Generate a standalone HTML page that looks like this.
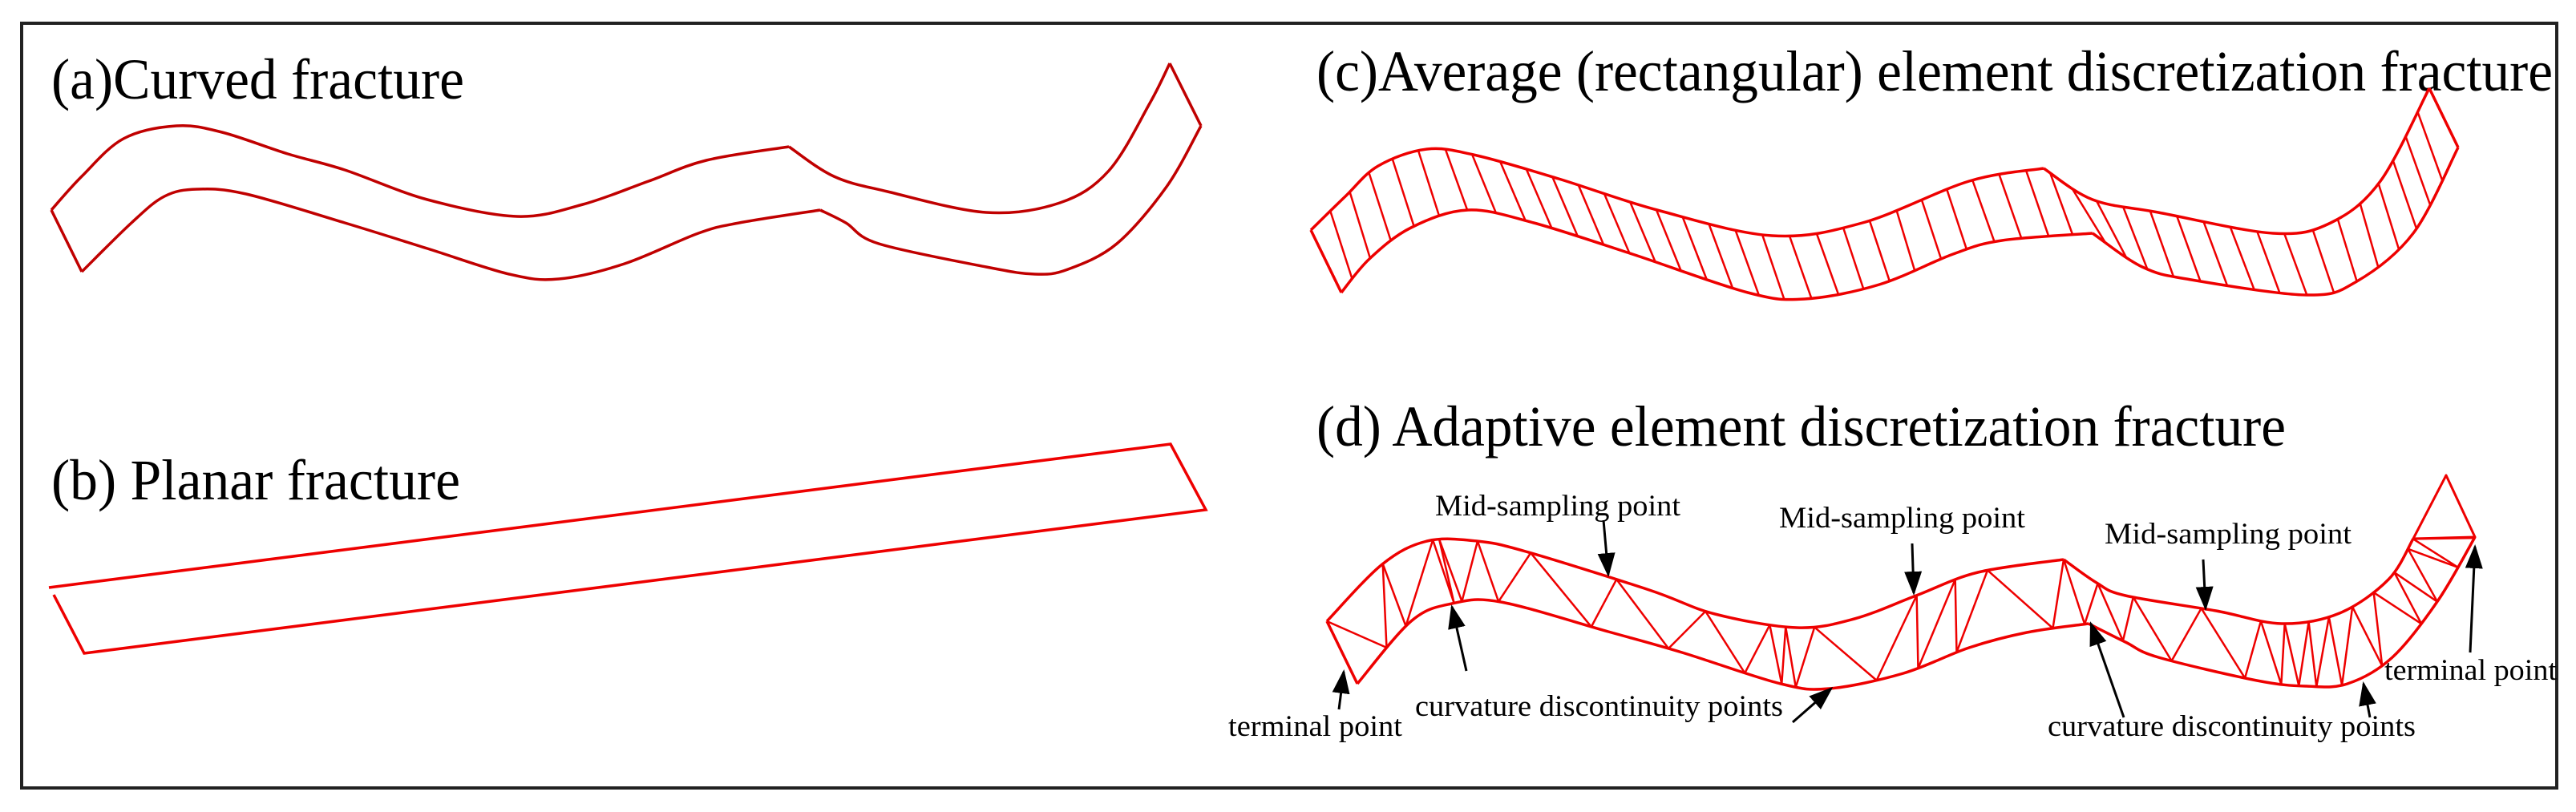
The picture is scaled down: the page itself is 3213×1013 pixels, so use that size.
<!DOCTYPE html>
<html><head><meta charset="utf-8"><style>
html,body{margin:0;padding:0;background:#fff;}
svg{display:block;}
text{font-family:"Liberation Serif",serif;fill:#000;}
</style></head><body>
<svg id="s" width="3213" height="1013" viewBox="0 0 3213 1013" xmlns="http://www.w3.org/2000/svg">
<defs>
<marker id="ah2" viewBox="0 0 10 10" refX="9" refY="5" markerWidth="30" markerHeight="22" orient="auto" markerUnits="userSpaceOnUse" preserveAspectRatio="none"><path d="M0,0 L10,5 L0,10 z" fill="#000"/></marker></defs>
<rect x="27" y="29" width="3162" height="954" fill="none" stroke="#222" stroke-width="4"/>
<text x="64" y="123" font-size="72" textLength="515" lengthAdjust="spacingAndGlyphs">(a)Curved fracture</text>
<text x="64" y="623" font-size="72" textLength="510" lengthAdjust="spacingAndGlyphs">(b) Planar fracture</text>
<text x="1642" y="113" font-size="72" textLength="1542" lengthAdjust="spacingAndGlyphs">(c)Average (rectangular) element discretization fracture</text>
<text x="1642" y="556" font-size="72" textLength="1209" lengthAdjust="spacingAndGlyphs">(d) Adaptive element discretization fracture</text>
<path d="M61,733 L1460,554 L1504,636 L105,815 L67,742" fill="none" stroke="#e00" stroke-width="3.5"/>
<g id="g"></g>
<g font-size="37">
<text x="1790" y="643" textLength="306" lengthAdjust="spacingAndGlyphs">Mid-sampling point</text>
<text x="2219" y="658" textLength="307" lengthAdjust="spacingAndGlyphs">Mid-sampling point</text>
<text x="2625" y="678" textLength="308" lengthAdjust="spacingAndGlyphs">Mid-sampling point</text>
<text x="1532" y="918" textLength="217" lengthAdjust="spacingAndGlyphs">terminal point</text>
<text x="1765" y="893" textLength="459" lengthAdjust="spacingAndGlyphs">curvature discontinuity points</text>
<text x="2554" y="918" textLength="459" lengthAdjust="spacingAndGlyphs">curvature discontinuity points</text>
<text x="2974" y="848" textLength="215" lengthAdjust="spacingAndGlyphs">terminal point</text>
</g>
<g stroke="#000" stroke-width="3" marker-end="url(#ah2)">
<line x1="2000" y1="649" x2="2006" y2="717"/>
<line x1="2385" y1="678" x2="2387" y2="740"/>
<line x1="2748" y1="698" x2="2751" y2="759"/>
<line x1="1670" y1="885" x2="1676" y2="838"/>
<line x1="1829" y1="837" x2="1811" y2="757"/>
<line x1="2236" y1="901" x2="2284" y2="859"/>
<line x1="2649" y1="895" x2="2608" y2="778"/>
<line x1="2956" y1="895" x2="2948" y2="853"/>
<line x1="3081" y1="814" x2="3087" y2="682"/>
</g>
</svg>
<script>
var NS="http://www.w3.org/2000/svg",G=document.getElementById('g');
function cr(p){var d="M"+p[0][0]+","+p[0][1];for(var i=0;i<p.length-1;i++){var a=p[i-1]||p[i],b=p[i],c=p[i+1],e=p[i+2]||c;d+=" C"+(b[0]+(c[0]-a[0])/6)+","+(b[1]+(c[1]-a[1])/6)+" "+(c[0]-(e[0]-b[0])/6)+","+(c[1]-(e[1]-b[1])/6)+" "+c[0]+","+c[1];}return d;}
function P(d,col,w){var e=document.createElementNS(NS,'path');e.setAttribute('d',d);e.setAttribute('fill','none');e.setAttribute('stroke',col);e.setAttribute('stroke-width',w);e.setAttribute('stroke-linejoin','round');G.appendChild(e);return e;}
function L(a,b,col,w){P("M"+a.x+","+a.y+" L"+b.x+","+b.y,col,w);}
function samp(paths){var r=[];paths.forEach(function(p){var n=p.getTotalLength();for(var s=0;s<=n;s+=2)r.push(p.getPointAtLength(s));});return r;}
function near(arr,x,y){var b=arr[0],bd=1e18;for(var i=0;i<arr.length;i++){var d=(arr[i].x-x)*(arr[i].x-x)+(arr[i].y-y)*(arr[i].y-y);if(d<bd){bd=d;b=arr[i];}}return b;}
// (a)
var aU=[[64,262],[102,220],[154,173],[220,157],[277,165],[359,192],[430,212],[533,249],[645,270],[727,255],[809,226],[881,200],[984,183]];
var aU2=[[984,183],[1040,220],[1107,239],[1230,265],[1322,253],[1383,213],[1434,129],[1459,79]];
var aL=[[1498,157],[1455,233],[1393,304],[1332,336],[1291,342],[1230,333],[1096,304],[1055,278],[1023,262]];
var aL2=[[1023,262],[922,278],[871,291],[779,329],[697,348],[635,342],[533,310],[430,278],[307,242],[246,236],[205,245],[164,278],[102,339]];
var ca="#c00000";
P(cr(aU),ca,3.5);P(cr(aU2),ca,3.5);P(cr(aL),ca,3.5);P(cr(aL2),ca,3.5);
P("M1459,79 L1498,157",ca,3.5);P("M102,339 L64,262",ca,3.5);
// (c)
var cU=[[1635,287],[1678,245],[1719,207],[1780,186],[1842,194],[1944,223],[2067,262],[2210,294],[2323,278],[2456,226],[2549,210]];
var cU2=[[2549,210],[2610,249],[2692,265],[2835,291],[2907,278],[2969,226],[3030,110]];
var cL=[[1673,365],[1708,323],[1760,284],[1831,262],[1913,278],[2036,317],[2180,365],[2251,373],[2344,355],[2436,317],[2497,300],[2610,291]];
var cL2=[[2610,291],[2672,333],[2733,349],[2877,368],[2938,352],[3010,291],[3066,184]];
var cr_="#e00";
var u1=P(cr(cU),cr_,3.5),u2=P(cr(cU2),cr_,3.5),l1=P(cr(cL),cr_,3.5),l2=P(cr(cL2),cr_,3.5);
P("M3030,110 L3066,184",cr_,3.5);P("M1635,287 L1673,365",cr_,3.5);
var cLs=samp([l1,l2]);
(function(){var us=samp([u1,u2]);var tot=us.length;var n=46;for(var i=1;i<n;i++){var u=us[Math.round(tot*i/n)];var l=near(cLs,u.x+28,u.y+85);L(u,l,cr_,2.5);}})();
// (d)
var dU=[[1655,775],[1724,704],[1780,675],[1842,675],[1903,688],[2057,736],[2139,766],[2241,783],[2313,772],[2390,743],[2467,714],[2574,698]];
var dU2=[[2574,698],[2615,727],[2651,743],[2764,762],[2846,778],[2918,765],[2979,723],[3010,672]];
var dL=[[1693,853],[1760,775],[1811,753],[1872,751],[2006,788],[2098,814],[2221,853],[2282,859],[2374,840],[2456,808],[2528,789],[2605,778]];
var dL2=[[2605,778],[2651,801],[2692,820],[2815,849],[2877,856],[2928,853],[2984,820],[3041,749],[3087,670]];
var du1=P(cr(dU),cr_,3.5),du2=P(cr(dU2),cr_,3.5),dl1=P(cr(dL),cr_,3.5),dl2=P(cr(dL2),cr_,3.5);
P("M3010,672 L3051,593 L3087,670 L3010,672",cr_,3);P("M1655,775 L1693,853",cr_,3.5);
var dLs=samp([dl1,dl2]);
// zigzag: upper x positions, lower x positions alternate
var ux=[1655,1724,1781,1792,1842,1899,1960,2040,2110,2215,2268,2390,2470,2560,2615,2645,2700,2780,2880,2945,2990,3010];
var lx=[1693,1740,1790,1822,1848,1875,1935,2000,2062,2120,2168,2200,2222,2236,2300,2383,2451,2542,2622,2660,2712,2760,2800,2830,2855,2870,2886,2905,2930,2970,3010,3041];
var dUs=samp([du1,du2]);
function atx(arr,x){var b=arr[0],bd=1e9;for(var i=0;i<arr.length;i++){var d=Math.abs(arr[i].x-x);if(d<bd){bd=d;b=arr[i];}}return b;}
(function(){
var U=[[1655,775],[1724,704],[1775,676],[1790,674],[1842,675],[1908,690],[1990,716],[2080,746],[2160,771],[2200,779],[2213,780],[2260,782],[2390,743],[2425,729],[2480,712],[2574,698],[2617,728],[2660,746],[2735,757],[2835,776],[2858,778],[2880,776],[2990,712],[3010,672]];
var Lw=[[1693,853],[1730,808],[1760,775],[1790,760],[1815,752],[1858,750],[1990,783],[2033,798],[2112,820],[2178,844],[2195,848],[2222,853],[2252,857],[2296,858],[2360,845],[2450,810],[2545,786],[2605,778],[2650,801],[2700,822],[2818,849],[2856,856],[2872,856],[2895,855],[2928,853],[2984,820],[3041,749],[3087,670]];
var pts=[];
// manual zigzag sequence
var seq=[["u",1655,775],["l",1730,808],["u",1724,704],["l",1754,781],["u",1788,675],["l",1813,752],["u",1795,674],["l",1823,751],["u",1842,675],["l",1870,750],["u",1910,690],["l",1985,782],["u",2015,724],["l",2080,810],["u",2127,761],["l",2175,843],["u",2207,780],["l",2222,853],["u",2228,781],["l",2240,856],["u",2263,782],["l",2340,850],["u",2390,743],["l",2392,833],["u",2440,724],["l",2440,813],["u",2480,712],["l",2560,786],["u",2574,698],["l",2600,779],["u",2617,728],["l",2648,800],["u",2660,746],["l",2710,823],["u",2745,759],["l",2800,845],["u",2820,773],["l",2845,853],["u",2850,777],["l",2868,856],["u",2880,776],["l",2890,855],["u",2905,772],["l",2920,852],["u",2935,757],["l",2970,829],["u",2962,740],["l",3020,777],["u",2985,712],["l",3040,750],["u",3003,685],["l",3065,707],["u",3010,672],["l",3087,670]];
var prev=null;
seq.forEach(function(s){var p=s[0]=="u"?near(dUs,s[1],s[2]):near(dLs,s[1],s[2]);if(prev)L(prev,p,cr_,2.5);prev=p;});
})();
</script>
</body></html>
